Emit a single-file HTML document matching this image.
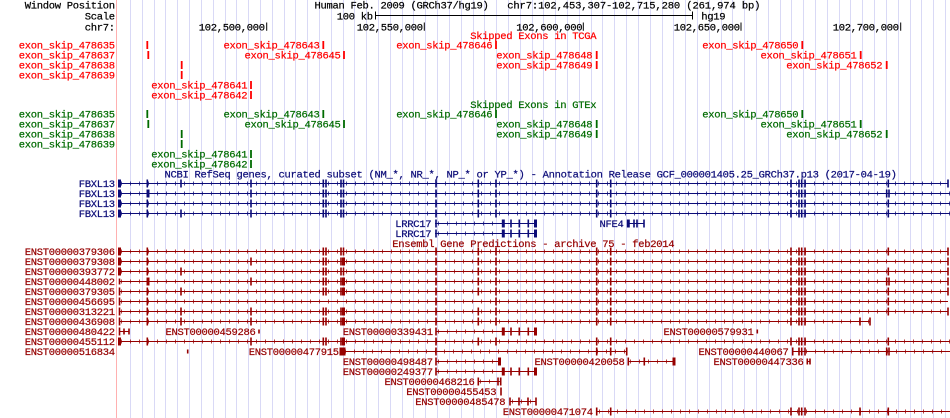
<!DOCTYPE html>
<html><head><meta charset="utf-8"><style>
html,body{margin:0;padding:0;background:#fff;width:950px;height:418px;overflow:hidden}
svg{display:block}
text{font-family:"Liberation Mono","DejaVu Sans Mono",monospace;font-size:10.5px;letter-spacing:-0.3px;stroke-width:.22}
.ex{fill:none;stroke-width:1.6}
.tk{fill:none;stroke-width:3}
.ln{fill:none;stroke-width:1}
.cv{fill:none;stroke-width:4;stroke-dasharray:1 8;opacity:.75}
.sk{fill:none;stroke-width:1.8}
</style></head><body>
<svg width="950" height="418" viewBox="0 0 950 418" xmlns="http://www.w3.org/2000/svg">
<rect width="950" height="418" fill="#fff"/>
<path fill="none" stroke="#d9d9f6" stroke-width="1" d="M130.5 0V418M142.5 0V418M154.5 0V418M165.5 0V418M177.5 0V418M189.5 0V418M201.5 0V418M213.5 0V418M225.5 0V418M236.5 0V418M248.5 0V418M260.5 0V418M272.5 0V418M284.5 0V418M295.5 0V418M307.5 0V418M319.5 0V418M331.5 0V418M343.5 0V418M354.5 0V418M366.5 0V418M378.5 0V418M390.5 0V418M402.5 0V418M413.5 0V418M425.5 0V418M437.5 0V418M449.5 0V418M461.5 0V418M473.5 0V418M484.5 0V418M496.5 0V418M508.5 0V418M520.5 0V418M532.5 0V418M543.5 0V418M555.5 0V418M567.5 0V418M579.5 0V418M591.5 0V418M602.5 0V418M614.5 0V418M626.5 0V418M638.5 0V418M650.5 0V418M662.5 0V418M673.5 0V418M685.5 0V418M697.5 0V418M709.5 0V418M721.5 0V418M732.5 0V418M744.5 0V418M756.5 0V418M768.5 0V418M780.5 0V418M791.5 0V418M803.5 0V418M815.5 0V418M827.5 0V418M839.5 0V418M850.5 0V418M862.5 0V418M874.5 0V418M886.5 0V418M898.5 0V418M910.5 0V418M921.5 0V418M933.5 0V418M945.5 0V418"/>
<rect x="116" y="0" width="1" height="418" fill="#ffb0b0"/>

<!-- Header / ruler -->
<g fill="#000" stroke="#000">
<text x="114.8" y="8.5" text-anchor="end">Window Position</text>
<text x="314.5" y="8.5">Human Feb. 2009 (GRCh37/hg19)</text>
<text x="507.2" y="8.5" textLength="253" lengthAdjust="spacing">chr7:102,453,307-102,715,280 (261,974 bp)</text>
<text x="114.8" y="19.5" text-anchor="end">Scale</text>
<text x="336.8" y="19.5">100 kb</text>
<text x="701.3" y="19.5">hg19</text>
<path class="ln" d="M375.5 15.5H692.5M375.5 11.5V19.5M692.5 11.5V19.5"/>
<text x="114.8" y="30.3" text-anchor="end">chr7:</text>
<text x="198.8" y="30.3">102,500,000</text>
<text x="356.8" y="30.3">102,550,000</text>
<text x="516.3" y="30.3">102,600,000</text>
<text x="673.8" y="30.3">102,650,000</text>
<text x="832.8" y="30.3">102,700,000</text>
<path class="ln" stroke-width="1.3" d="M266.7 22.5V30.7M424.3 22.5V30.7M583.3 22.5V30.7M741 22.5V30.7M900.7 22.5V30.7"/>
</g>

<!-- Skipped exons TCGA -->
<g transform="translate(0,45)" fill="#f00" stroke="#f00">
<text x="470.2" y="-5.8">Skipped Exons in TCGA</text>
<text x="114.8" y="3.5" text-anchor="end">exon_skip_478635</text>
<text x="114.8" y="13.5" text-anchor="end">exon_skip_478637</text>
<text x="114.8" y="23.5" text-anchor="end">exon_skip_478638</text>
<text x="114.8" y="33.5" text-anchor="end">exon_skip_478639</text>
<text x="223.5" y="3.5">exon_skip_478643</text>
<text x="396.3" y="3.5">exon_skip_478646</text>
<text x="702.3" y="3.5">exon_skip_478650</text>
<text x="244.5" y="13.5">exon_skip_478645</text>
<text x="496.3" y="13.5">exon_skip_478648</text>
<text x="760.5" y="13.5">exon_skip_478651</text>
<text x="496.3" y="23.5">exon_skip_478649</text>
<text x="786.3" y="23.5">exon_skip_478652</text>
<text x="151.2" y="43.5">exon_skip_478641</text>
<text x="151.2" y="53.5">exon_skip_478642</text>
<path class="sk" d="M147.3-4v8M323.3-4v8M496-4v8M802.3-4v8M148.3 6v8M344 6v8M596.7 6v8M860.7 6v8M181.7 16v8M596.7 16v8M886.7 16v8M181.7 26v8M251 36v8M251 46v8"/>
</g>

<!-- Skipped exons GTEx -->
<g transform="translate(0,114)" fill="#006b00" stroke="#006b00">
<text x="470.2" y="-6">Skipped Exons in GTEx</text>
<text x="114.8" y="3.5" text-anchor="end">exon_skip_478635</text>
<text x="114.8" y="13.5" text-anchor="end">exon_skip_478637</text>
<text x="114.8" y="23.5" text-anchor="end">exon_skip_478638</text>
<text x="114.8" y="33.5" text-anchor="end">exon_skip_478639</text>
<text x="223.5" y="3.5">exon_skip_478643</text>
<text x="396.3" y="3.5">exon_skip_478646</text>
<text x="702.3" y="3.5">exon_skip_478650</text>
<text x="244.5" y="13.5">exon_skip_478645</text>
<text x="496.3" y="13.5">exon_skip_478648</text>
<text x="760.5" y="13.5">exon_skip_478651</text>
<text x="496.3" y="23.5">exon_skip_478649</text>
<text x="786.3" y="23.5">exon_skip_478652</text>
<text x="151.2" y="43.5">exon_skip_478641</text>
<text x="151.2" y="53.5">exon_skip_478642</text>
<path class="sk" d="M147.3-4v8M323.3-4v8M496-4v8M802.3-4v8M148.3 6v8M344 6v8M596.7 6v8M860.7 6v8M181.7 16v8M596.7 16v8M886.7 16v8M181.7 26v8M251 36v8M251 46v8"/>
</g>

<!-- NCBI RefSeq -->
<g fill="#0c0c78" stroke="#0c0c78">
<text x="164.5" y="177.5">NCBI RefSeq genes, curated subset (NM_*, NR_*, NP_* or YP_*) - Annotation Release GCF_000001405.25_GRCh37.p13 (2017-04-19)</text>
<g transform="translate(0,183.5)">
<text x="114.8" y="3.5" text-anchor="end">FBXL13</text>
<path class="ln" d="M119 0H948"/><path class="cv" d="M121 0H948"/>
<path class="tk" d="M119.5-4v8"/>
<path class="ex" d="M147.3-4v8M181-4v8M251-4v8M323.3-4v8M326-4v8M341-4v8M343.5-4v8M436-4v8M478.3-4v8M496-4v8M596.7-4v8M610.7-4v8M791-4v8M799-4v8M801.7-4v8M805-4v8M888.3-4v8M948-4v8"/>
</g>
<g transform="translate(0,193.5)">
<text x="114.8" y="3.5" text-anchor="end">FBXL13</text>
<path class="ln" d="M119 0H950"/><path class="cv" d="M121 0H950"/>
<path class="tk" d="M119.5-4v8M148-4v8"/>
<path class="ex" d="M251-4v8M323.3-4v8M326-4v8M341-4v8M343.5-4v8M436-4v8M478.3-4v8M496-4v8M596.7-4v8M610.7-4v8M791-4v8M799-4v8M801.7-4v8M805-4v8M886.7-4v8M889-4v8"/>
</g>
<g transform="translate(0,203.5)">
<text x="114.8" y="3.5" text-anchor="end">FBXL13</text>
<path class="ln" d="M119 0H950"/><path class="cv" d="M121 0H950"/>
<path class="tk" d="M119.5-4v8"/>
<path class="ex" d="M147.3-4v8M251-4v8M323.3-4v8M326-4v8M341-4v8M343.5-4v8M436-4v8M478.3-4v8M496-4v8M596.7-4v8M610.7-4v8M791-4v8M799-4v8M801.7-4v8M805-4v8M888.3-4v8"/>
</g>
<g transform="translate(0,213.5)">
<text x="114.8" y="3.5" text-anchor="end">FBXL13</text>
<path class="ln" d="M119 0H950"/><path class="cv" d="M121 0H950"/>
<path class="tk" d="M119.5-4v8"/>
<path class="ex" d="M147.3-4v8M181-4v8M251-4v8M323.3-4v8M326-4v8M341-4v8M343.5-4v8M436-4v8M478.3-4v8M496-4v8M596.7-4v8M610.7-4v8M791-4v8M799-4v8M801.7-4v8M805-4v8M888.3-4v8"/>
</g>
<g transform="translate(0,223.5)">
<text x="395.2" y="3.5">LRRC17</text>
<path class="ln" d="M435 0H536.7"/><path class="cv" d="M438 0H500"/>
<path class="ex" d="M436-4v8M511-4v8M519.3-4v8M528.3-4v8"/>
<path class="tk" d="M503.3-4v8M535.5-4v8"/>
<text x="599.5" y="3.5">NFE4</text>
<path class="ln" d="M627 0H644"/>
<path class="tk" d="M628.3-4v8"/>
<path class="ex" d="M634-4v8M637-4v8M644-4v8"/>
</g>
<g transform="translate(0,233.5)">
<text x="395.2" y="3.5">LRRC17</text>
<path class="ln" d="M435 0H536.7"/><path class="cv" d="M438 0H500"/>
<path class="ex" d="M436-4v8M511-4v8M519.3-4v8M528.3-4v8"/>
<path class="tk" d="M503.3-4v8M535.5-4v8"/>
</g>
</g>

<!-- Ensembl -->
<g fill="#960000" stroke="#960000">
<text x="392.2" y="246.8">Ensembl Gene Predictions - archive 75 - feb2014</text>

<g transform="translate(0,251.5)">
<text x="114.8" y="3.5" text-anchor="end">ENST00000379306</text>
<path class="ln" d="M119 0H948"/><path class="cv" d="M121 0H948"/>
<path class="tk" d="M119.5-4v8"/>
<path class="ex" d="M147.3-4v8M323.3-4v8M326-4v8M341-4v8M343.5-4v8M436-4v8M478.3-4v8M496-4v8M596.7-4v8M610.7-4v8M791-4v8M799-4v8M801.7-4v8M805-4v8M888.3-4v8M948-4v8"/>
</g>
<g transform="translate(0,261.5)">
<text x="114.8" y="3.5" text-anchor="end">ENST00000379308</text>
<path class="ln" d="M119 0H948"/><path class="cv" d="M121 0H948"/>
<path class="tk" d="M119.5-4v8M343.5-4v8"/>
<path class="ex" d="M147.3-4v8M251-4v8M323.3-4v8M326-4v8M341-4v8M436-4v8M478.3-4v8M496-4v8M596.7-4v8M610.7-4v8M791-4v8M799-4v8M801.7-4v8M805-4v8M948-4v8"/>
</g>
<g transform="translate(0,271.5)">
<text x="114.8" y="3.5" text-anchor="end">ENST00000393772</text>
<path class="ln" d="M119 0H948"/><path class="cv" d="M121 0H948"/>
<path class="tk" d="M119.5-4v8"/>
<path class="ex" d="M147.3-4v8M181-4v8M323.3-4v8M326-4v8M341-4v8M343.5-4v8M436-4v8M478.3-4v8M496-4v8M596.7-4v8M610.7-4v8M791-4v8M799-4v8M801.7-4v8M805-4v8M888.3-4v8M948-4v8"/>
</g>
<g transform="translate(0,281.5)">
<text x="114.8" y="3.5" text-anchor="end">ENST00000448002</text>
<path class="ln" d="M119 0H948"/><path class="cv" d="M121 0H948"/>
<path class="tk" d="M148-4v8M343.5-4v8"/>
<path class="ex" d="M119.5-3v6M251-4v8M323.3-4v8M326-4v8M341-4v8M436-4v8M478.3-4v8M496-4v8M596.7-4v8M610.7-4v8M791-4v8M799-4v8M801.7-4v8M805-4v8M886.7-4v8M889-4v8M948-4v8"/>
</g>
<g transform="translate(0,291.5)">
<text x="114.8" y="3.5" text-anchor="end">ENST00000379305</text>
<path class="ln" d="M119 0H948"/><path class="cv" d="M121 0H948"/>
<path class="tk" d="M343.5-4v8"/>
<path class="ex" d="M119.5-4v8M147.3-4v8M181-4v8M323.3-4v8M326-4v8M341-4v8M436-4v8M478.3-4v8M496-4v8M596.7-4v8M610.7-4v8M791-4v8M799-4v8M801.7-4v8M805-4v8M888.3-4v8M948-4v8"/>
</g>
<g transform="translate(0,301.5)">
<text x="114.8" y="3.5" text-anchor="end">ENST00000456695</text>
<path class="ln" d="M119 0H948"/><path class="cv" d="M121 0H948"/>
<path class="ex" d="M119.5-4v8M147.3-4v8M436-4v8M496-4v8M596.7-4v8M610.7-4v8M791-4v8M799-4v8M801.7-4v8M805-4v8M888.3-4v8"/>
</g>
<g transform="translate(0,311.5)">
<text x="114.8" y="3.5" text-anchor="end">ENST00000313221</text>
<path class="ln" d="M119 0H948"/><path class="cv" d="M121 0H948"/>
<path class="tk" d="M343.5-4v8"/>
<path class="ex" d="M119.5-4v8M147.3-4v8M181-4v8M251-4v8M323.3-4v8M326-4v8M341-4v8M436-4v8M478.3-4v8M496-4v8M596.7-4v8M610.7-4v8M791-4v8M799-4v8M801.7-4v8M805-4v8M888.3-4v8M948-4v8"/>
</g>
<g transform="translate(0,321.5)">
<text x="114.8" y="3.5" text-anchor="end">ENST00000436908</text>
<path class="ln" d="M119 0H870"/><path class="cv" d="M121 0H870"/>
<path class="tk" d="M343.5-4v8"/>
<path class="ex" d="M119.5-4v8M147.3-4v8M181-4v8M251-4v8M323.3-4v8M326-4v8M341-4v8M436-4v8M478.3-4v8M496-4v8M596.7-4v8M610.7-4v8M791-4v8M799-4v8M801.7-4v8M805-4v8M860-4v8M870-4v8"/>
</g>
<g transform="translate(0,331.5)">
<text x="114.8" y="3.5" text-anchor="end">ENST00000480422</text>
<path class="ln" d="M119 0H129"/>
<path class="ex" d="M119.5-4v8M124-3v6M129-3v6M259-2v4M757.3-2v4"/>
<text x="165.5" y="3.5">ENST00000459286</text>
<text x="342.8" y="3.5">ENST00000339431</text>
<path class="ln" d="M436 0H536.7"/><path class="cv" d="M438 0H500"/>
<path class="ex" d="M436-4v8M511-4v8M519.3-4v8M528.3-4v8"/>
<path class="tk" d="M503.3-4v8M535.5-4v8"/>
<text x="663.5" y="3.5">ENST00000579931</text>
</g>
<g transform="translate(0,341.5)">
<text x="114.8" y="3.5" text-anchor="end">ENST00000455112</text>
<path class="ln" d="M119 0H950"/><path class="cv" d="M121 0H950"/>
<path class="tk" d="M119.5-4v8M343.5-4v8"/>
<path class="ex" d="M147.3-4v8M251-4v8M323.3-4v8M326-4v8M341-4v8M436-4v8M478.3-4v8M496-4v8M596.7-4v8M610.7-4v8M791-4v8M799-4v8M801.7-4v8M805-4v8M888.3-4v8"/>
</g>
<g transform="translate(0,351.5)">
<text x="114.8" y="3.5" text-anchor="end">ENST00000516834</text>
<path class="ex" d="M187.7-2v4"/>
<text x="248.8" y="3.5">ENST00000477915</text>
<path class="ln" d="M341 0H626.7"/><path class="cv" d="M345 0H626"/>
<path class="tk" d="M341-4v8M344-4v8"/>
<path class="ex" d="M436-4v8M596.7-4v8M610.7-4v8M626.7-4v8"/>
<text x="698.5" y="3.5">ENST00000440067</text>
<path class="ln" d="M792.7 0H950"/><path class="cv" d="M806 0H950"/>
<path class="ex" d="M792.7-4v8M799-4v8M801.7-4v8M805-4v8M886.7-4v8M889-4v8"/>
</g>
<g transform="translate(0,361.5)">
<text x="342.8" y="3.5">ENST00000498487</text>
<path class="ln" d="M436 0H500.7"/><path class="cv" d="M438 0H498"/>
<path class="ex" d="M436-4v8"/><path class="tk" d="M499.5-4v8"/>
<text x="534.5" y="3.5">ENST00000420058</text>
<path class="ln" d="M628.3 0H675"/><path class="cv" d="M630 0H672"/>
<path class="ex" d="M628.3-4v8M644.3-4v8"/><path class="tk" d="M674-4v8"/>
<text x="713.5" y="3.5">ENST00000447336</text>
<path class="ln" d="M807.3 0H810"/>
<path class="ex" d="M807.3-3v6M810-3v6"/>
</g>
<g transform="translate(0,371.5)">
<text x="342.8" y="3.5">ENST00000249377</text>
<path class="ln" d="M436 0H536.7"/><path class="cv" d="M438 0H500"/>
<path class="ex" d="M436-4v8M511-4v8M519.3-4v8M528.3-4v8"/>
<path class="tk" d="M503.3-4v8M535.5-4v8"/>
</g>
<g transform="translate(0,381.5)">
<text x="384.5" y="3.5">ENST00000468216</text>
<path class="ln" d="M478.3 0H500.7"/><path class="cv" d="M480 0H496"/>
<path class="ex" d="M478.3-4v8M498-4v8M500.7-4v8"/>
</g>
<g transform="translate(0,391.5)">
<text x="406.2" y="3.5">ENST00000455453</text>
<path class="ex" d="M501-4v8"/>
</g>
<g transform="translate(0,401.5)">
<text x="415.2" y="3.5">ENST00000485478</text>
<path class="ln" d="M510 0H536"/><path class="cv" d="M512 0H534"/>
<path class="ex" d="M510-4v8M519-4v8M528-4v8M536-4v8"/>
</g>
<g transform="translate(0,411.5)">
<text x="502.8" y="3.5">ENST00000471074</text>
<path class="ln" d="M596.7 0H950"/><path class="cv" d="M599 0H950"/>
<path class="ex" d="M596.7-4v8M610.7-4v8M791-4v8M799-4v8M801.7-4v8M805-4v8M860-4v8M888.3-4v8"/>
</g>
</g>
</svg>
</body></html>
